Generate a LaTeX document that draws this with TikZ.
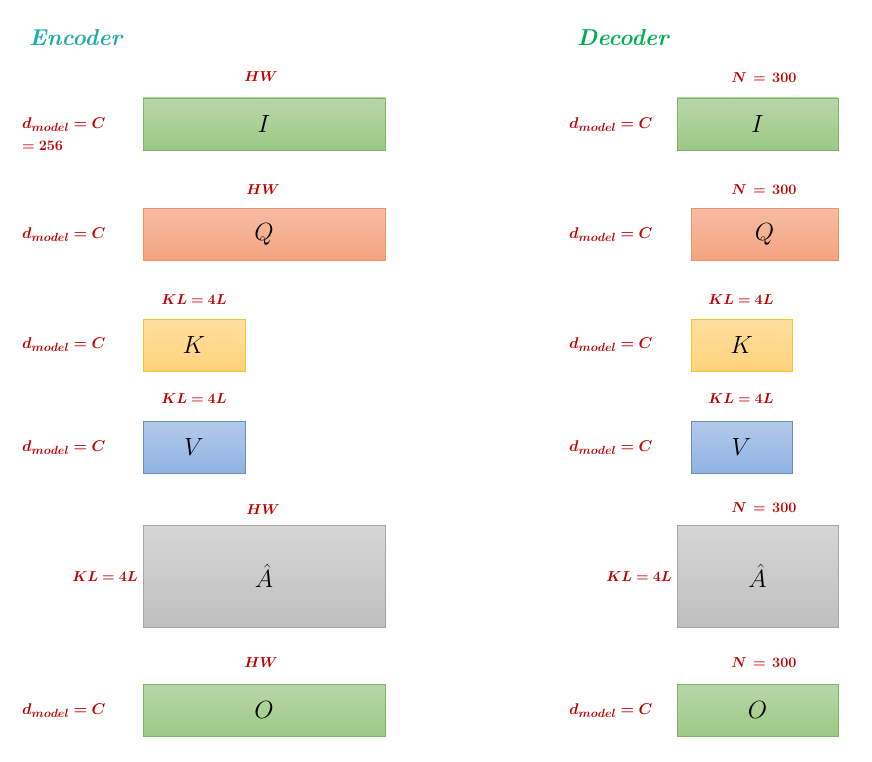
\documentclass[tikz,border=0pt]{standalone}
\usepackage{amsmath}
\usepackage{bm}
\usepackage{graphicx}
\usepackage{fontspec}
\definecolor{lblred}{HTML}{C00000}
\definecolor{enccol}{HTML}{22AAB4}
\definecolor{deccol}{HTML}{00B050}
\definecolor{gtop}{HTML}{B7D7A8}\definecolor{gbot}{HTML}{9CC985}\definecolor{gdraw}{HTML}{82B366}
\definecolor{otop}{HTML}{F7BCA4}\definecolor{obot}{HTML}{F4A480}\definecolor{odraw}{HTML}{E8956A}
\definecolor{ytop}{HTML}{FFDFA0}\definecolor{ybot}{HTML}{FFD37C}\definecolor{ydraw}{HTML}{F2C830}
\definecolor{btop}{HTML}{B3CAEB}\definecolor{bbot}{HTML}{8FB3E1}\definecolor{bdraw}{HTML}{6C8EBF}
\definecolor{atop}{HTML}{D6D6D6}\definecolor{abot}{HTML}{BFBFBF}\definecolor{adraw}{HTML}{A6A6A6}
\newcommand{\dmod}{\scalebox{1.08}{$\bm{d_{model}=C}$}}
\newcommand{\nval}{$\bm{N\,=\,300}$}
\tikzset{
  mat/.style={inner sep=0pt, outer sep=0pt, line width=0.8pt,
    font=\fontsize{24}{28}\selectfont},
  greenbox/.style={mat, draw=gdraw, top color=gtop, bottom color=gbot},
  orangebox/.style={mat, draw=odraw, top color=otop, bottom color=obot},
  yellowbox/.style={mat, draw=ydraw, top color=ytop, bottom color=ybot},
  bluebox/.style={mat, draw=bdraw, top color=btop, bottom color=bbot},
  graybox/.style={mat, draw=adraw, top color=atop, bottom color=abot},
  lbl/.style={text=lblred, inner sep=0pt, font=\fontsize{15.5}{18}\selectfont},
  ttl/.style={inner sep=0pt, font=\fontsize{23}{26}\selectfont\bfseries\itshape},
}
\begin{document}
\begin{tikzpicture}[x=1pt,y=-1pt]
\useasboundingbox (0,0) rectangle (872,762);
% titles
\node[ttl, text=enccol, anchor=west] (enc) at (29,38) {Encoder};
\node[ttl, text=deccol, anchor=west] (dec) at (577,38) {Decoder};

% ---------- Encoder ----------
\node[greenbox, minimum width=242, minimum height=52] (eI) at (264,124) {$I$};
\node[orangebox, minimum width=242, minimum height=52] (eQ) at (264,234) {$Q$};
\node[yellowbox, minimum width=102, minimum height=52] (eK) at (194,345) {$K$};
\node[bluebox, minimum width=102, minimum height=52] (eV) at (194,447) {$V$};
\node[graybox, minimum width=242, minimum height=102] (eA) at (264,576) {$\hat{A}$};
\node[greenbox, minimum width=242, minimum height=52] (eO) at (264,710) {$O$};

\node[lbl] (eIt) at (261,77) {$\bm{HW}$};
\node[lbl] (eQt) at (263,190) {$\bm{HW}$};
\node[lbl] (eKt) at (194,300) {$\bm{KL=4L}$};
\node[lbl] (eVt) at (194,399) {$\bm{KL=4L}$};
\node[lbl] (eAt) at (263,510) {$\bm{HW}$};
\node[lbl] (eOt) at (261,663) {$\bm{HW}$};

\node[lbl, anchor=west] (eIl) at (22,125) {\dmod};
\node[lbl, anchor=west] (eIl2) at (22,146) {$\bm{=256}$};
\node[lbl, anchor=west] (eQl) at (22,235) {\dmod};
\node[lbl, anchor=west] (eKl) at (22,345) {\dmod};
\node[lbl, anchor=west] (eVl) at (22,448) {\dmod};
\node[lbl, anchor=east] (eAl) at (138,577) {$\bm{KL=4L}$};
\node[lbl, anchor=west] (eOl) at (22,711) {\dmod};

% ---------- Decoder ----------
\node[greenbox, minimum width=161, minimum height=52] (dI) at (757.5,124) {$I$};
\node[orangebox, minimum width=147, minimum height=52] (dQ) at (764.5,234) {$Q$};
\node[yellowbox, minimum width=101, minimum height=52] (dK) at (741.5,345) {$K$};
\node[bluebox, minimum width=101, minimum height=52] (dV) at (741.5,447) {$V$};
\node[graybox, minimum width=161, minimum height=102] (dA) at (757.5,576) {$\hat{A}$};
\node[greenbox, minimum width=161, minimum height=52] (dO) at (757.5,710) {$O$};

\node[lbl] (dIt) at (764,78) {\nval};
\node[lbl] (dQt) at (764,190) {\nval};
\node[lbl] (dKt) at (741,300) {$\bm{KL=4L}$};
\node[lbl] (dVt) at (741,399) {$\bm{KL=4L}$};
\node[lbl] (dAt) at (764,508) {\nval};
\node[lbl] (dOt) at (764,663) {\nval};

\node[lbl, anchor=west] (dIl) at (569,125) {\dmod};
\node[lbl, anchor=west] (dQl) at (569,235) {\dmod};
\node[lbl, anchor=west] (dKl) at (569,345) {\dmod};
\node[lbl, anchor=west] (dVl) at (569,448) {\dmod};
\node[lbl, anchor=east] (dAl) at (672,577) {$\bm{KL=4L}$};
\node[lbl, anchor=west] (dOl) at (569,711) {\dmod};
\end{tikzpicture}
\end{document}
